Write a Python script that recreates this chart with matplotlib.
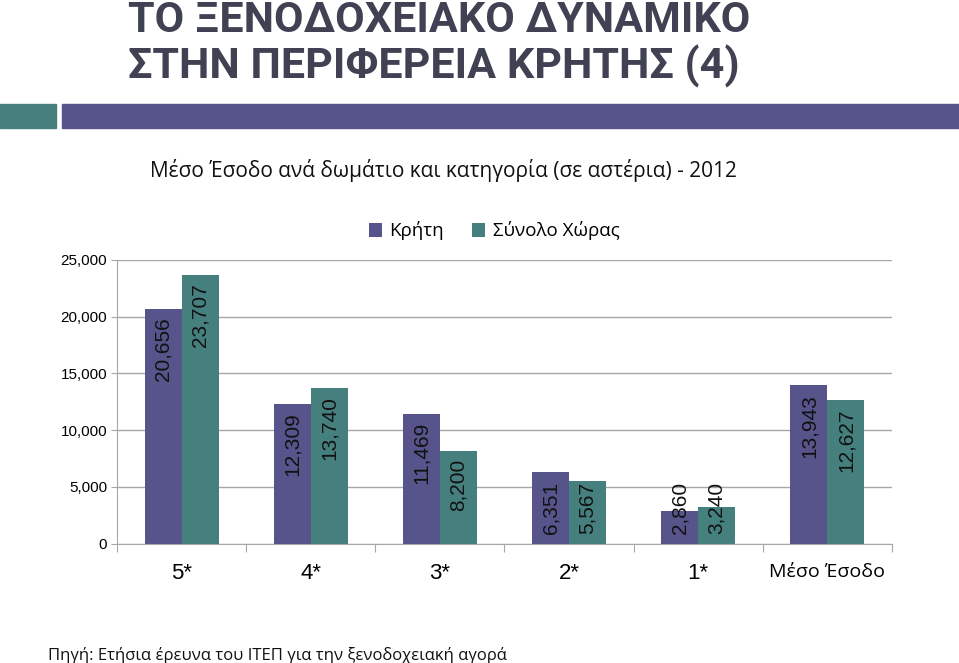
#!/usr/bin/env python3
"""
Average revenue per room and hotel category, Crete vs whole country (2012)
"""
import numpy as np
import matplotlib
matplotlib.use('Agg')
import matplotlib.pyplot as plt
from matplotlib.patches import Rectangle

categories = ['5*', '4*', '3*', '2*', '1*', 'Μέσο Έσοδο']
crete = [20656, 12309, 11469, 6351, 2860, 13943]
country = [23707, 13740, 8200, 5567, 3240, 12627]
series_names = ['Κρήτη', 'Σύνολο Χώρας']
y_ticks = [0, 5000, 10000, 15000, 20000, 25000]

title = 'ΤΟ ΞΕΝΟΔΟΧΕΙΑΚΟ ΔΥΝΑΜΙΚΟ\nΣΤΗΝ ΠΕΡΙΦΕΡΕΙΑ ΚΡΗΤΗΣ (4)'
subtitle = 'Μέσο Έσοδο ανά δωμάτιο και κατηγορία (σε αστέρια) - 2012'
source = 'Πηγή: Ετήσια έρευνα του ΙΤΕΠ για την ξενοδοχειακή αγορά'

purple = '#56548A'
teal = '#45807F'
title_color = '#404152'
grid_color = '#A6A6A6'

W, H = 959, 663
fig = plt.figure(figsize=(W / 100, H / 100), dpi=100)

# title and header band
fig.text(128 / W, 1 - 0 / H, title, ha='left', va='top', color=title_color,
         fontsize=31, fontweight='bold', linespacing=1.1,
         family=['Roboto', 'DejaVu Sans'])
fig.patches.append(Rectangle((0, 1 - 127.5 / H), 56 / W, 24 / H,
                             transform=fig.transFigure, color=teal))
fig.patches.append(Rectangle((62 / W, 1 - 127.5 / H), 1, 24 / H,
                             transform=fig.transFigure, color=purple))
fig.text(443 / W, 1 - 170 / H, subtitle, ha='center', va='center',
         fontsize=15, family=['Open Sans', 'DejaVu Sans'], color='#111111')
fig.text(48 / W, 1 - 655 / H, source, ha='left', va='center',
         fontsize=12, family=['Open Sans', 'DejaVu Sans'], color='#111111')

ax = fig.add_axes([117 / W, 1 - 543.7 / H, (892 - 117) / W, (543.7 - 260) / H])

x = np.arange(len(categories))
width = 0.286
bars_c = ax.bar(x - width / 2, crete, width, color=purple, label=series_names[0], zorder=3)
bars_n = ax.bar(x + width / 2, country, width, color=teal, label=series_names[1], zorder=3)

# data labels: inside end, clamped to the base for short bars
for bars, vals in ((bars_c, crete), (bars_n, country)):
    for b, v in zip(bars, vals):
        cx = b.get_x() + b.get_width() / 2
        if v < 7000:
            ax.annotate(f'{v:,}', (cx, 0), xytext=(0, 7), textcoords='offset points',
                        rotation=90, ha='center', va='bottom', fontsize=15,
                        family='Liberation Sans', color='#111111', zorder=4)
        else:
            ax.annotate(f'{v:,}', (cx, v), xytext=(0, -6), textcoords='offset points',
                        rotation=90, ha='center', va='top', fontsize=15,
                        family='Liberation Sans', color='#111111', zorder=4)

ax.set_xlim(-0.5, len(categories) - 0.5)
ax.set_ylim(0, 25000)
ax.set_yticks(y_ticks)
ax.set_yticklabels([f'{t:,}' for t in y_ticks], fontsize=11, family='Liberation Sans')
ax.yaxis.grid(True, color=grid_color, linewidth=1, zorder=0)

ax.set_xticks(np.arange(len(categories) + 1) - 0.5)
ax.set_xticklabels([])
ax.set_xticks(x, minor=True)
ax.set_xticklabels(categories, minor=True)
ax.tick_params(axis='x', which='major', length=6, color=grid_color)
ax.tick_params(axis='x', which='minor', length=0, pad=14)
for lbl in ax.get_xticklabels(minor=True):
    if lbl.get_text() == 'Μέσο Έσοδο':
        lbl.set_fontfamily(['Open Sans', 'DejaVu Sans'])
        lbl.set_fontsize(14)
    else:
        lbl.set_fontfamily('Liberation Sans')
        lbl.set_fontsize(16)
ax.tick_params(axis='y', length=4, color=grid_color, pad=3)

for side in ('top', 'right'):
    ax.spines[side].set_visible(False)
for side in ('left', 'bottom'):
    ax.spines[side].set_color(grid_color)

ax.legend(loc='center', bbox_to_anchor=(494 / W, 1 - 231 / H), bbox_transform=fig.transFigure,
          ncol=2, frameon=False, handlelength=0.7, handleheight=0.7, handletextpad=0.4,
          columnspacing=1.5, prop={'family': ['Open Sans', 'DejaVu Sans'], 'size': 13.5})

fig.savefig('out.png', dpi=100)
